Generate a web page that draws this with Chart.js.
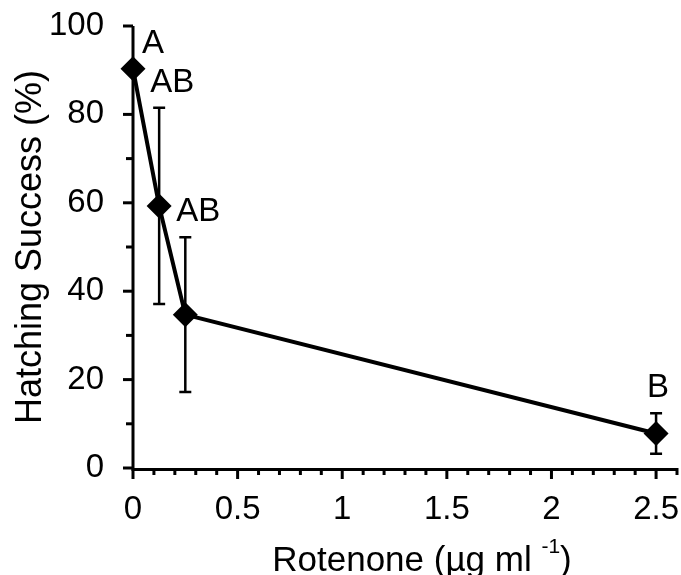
<!DOCTYPE html>
<html>
<head>
<meta charset="utf-8">
<script src="https://cdn.jsdelivr.net/npm/chart.js@4.4.1/dist/chart.umd.min.js"></script>
<style>
  html, body { margin: 0; padding: 0; background: #fff; }
</style>
</head>
<body>
<canvas id="chart" width="681" height="575"></canvas>
<script>
// data
const doses = [0, 0.125, 0.25, 2.5];
const hatching = [90.3, 59.3, 34.7, 7.8];
const errors = [0, 22.2, 17.5, 4.6];
const letters = ["A", "AB", "AB", "B"];
const xLabels = [0, 0.5, 1, 1.5, 2, 2.5];
const yLabels = [0, 20, 40, 60, 80, 100];

const FONT = '"Liberation Sans", Arial, sans-serif';

function near(list, v) {
  return list.find((l) => Math.abs(l - v) < 1e-6);
}

// axis lines + major/minor tick marks, error bars, letters, x title
const extras = {
  id: "extras",
  beforeDatasetsDraw(chart) {
    const { ctx, chartArea: a, scales } = chart;
    const xs = scales.x;
    const ys = scales.y;
    ctx.save();
    ctx.strokeStyle = "#000";
    ctx.lineWidth = 3;
    ctx.lineCap = "butt";
    ctx.beginPath();
    ctx.moveTo(a.left, a.top);
    ctx.lineTo(a.left, a.bottom + 1.5);
    ctx.lineTo(a.right, a.bottom + 1.5);
    ctx.stroke();

    xs.ticks.forEach((t) => {
      const px = xs.getPixelForValue(t.value);
      const len = near(xLabels, t.value) !== undefined ? 11 : 7;
      ctx.beginPath();
      ctx.moveTo(px, a.bottom);
      ctx.lineTo(px, a.bottom + len);
      ctx.stroke();
    });
    ys.ticks.forEach((t) => {
      const py = ys.getPixelForValue(t.value);
      const len = near(yLabels, t.value) !== undefined ? 10 : 7;
      ctx.beginPath();
      ctx.moveTo(a.left, py);
      ctx.lineTo(a.left - len, py);
      ctx.stroke();
    });

    // error bars
    ctx.lineWidth = 2.5;
    doses.forEach((d, i) => {
      if (!errors[i]) return;
      const px = xs.getPixelForValue(d);
      const top = ys.getPixelForValue(hatching[i] + errors[i]);
      const bot = ys.getPixelForValue(hatching[i] - errors[i]);
      ctx.beginPath();
      ctx.moveTo(px, top);
      ctx.lineTo(px, bot);
      ctx.moveTo(px - 6, top);
      ctx.lineTo(px + 6, top);
      ctx.moveTo(px - 6, bot);
      ctx.lineTo(px + 6, bot);
      ctx.stroke();
    });
    ctx.restore();
  },
  afterDraw(chart) {
    const { ctx, chartArea: a, scales } = chart;
    const xs = scales.x;
    const ys = scales.y;
    ctx.save();
    ctx.fillStyle = "#000";

    // significance letters above each error bar
    ctx.font = "33px " + FONT;
    ctx.textAlign = "left";
    ctx.textBaseline = "alphabetic";
    letters.forEach((l, i) => {
      const px = Math.max(xs.getPixelForValue(doses[i]) - 9, a.left + 9);
      const py = ys.getPixelForValue(hatching[i] + errors[i]) - 16;
      ctx.fillText(l, px, py);
    });

    // x axis title with superscript
    const main = "Rotenone (\u00b5g ml ";
    const sup = "-1";
    const end = ")";
    const big = "35px " + FONT;
    const small = "21px " + FONT;
    ctx.font = big;
    const w1 = ctx.measureText(main).width;
    const w3 = ctx.measureText(end).width;
    ctx.font = small;
    const w2 = ctx.measureText(sup).width;
    let x = 422 - (w1 + w2 + w3) / 2;
    const base = 571;
    ctx.font = big;
    ctx.fillText(main, x, base);
    x += w1;
    ctx.font = small;
    ctx.fillText(sup, x, base - 18);
    x += w2;
    ctx.font = big;
    ctx.fillText(end, x, base);
    ctx.restore();
  },
};

const chart = new Chart(document.getElementById("chart"), {
  type: "scatter",
  data: {
    datasets: [
      {
        data: doses.map((d, i) => ({ x: d, y: hatching[i] })),
        showLine: true,
        borderColor: "#000",
        borderWidth: 4,
        backgroundColor: "#000",
        pointStyle: "rectRot",
        pointRadius: 12.5,
        pointHoverRadius: 12.5,
        pointBackgroundColor: "#000",
        pointBorderWidth: 0,
        tension: 0,
        clip: false,
      },
    ],
  },
  options: {
    responsive: false,
    animation: false,
    layout: { autoPadding: false, padding: { top: 26, right: 4, left: 0, bottom: 0 } },
    plugins: { legend: { display: false }, tooltip: { enabled: false } },
    scales: {
      x: {
        type: "linear",
        min: 0,
        max: 2.6,
        grid: { display: false, drawTicks: false },
        border: { display: false },
        ticks: {
          stepSize: 0.1,
          autoSkip: false,
          maxRotation: 0,
          padding: 22,
          color: "#000",
          font: { family: FONT, size: 33 },
          callback: (v) => {
            const m = near(xLabels, v);
            return m === undefined ? "" : String(m);
          },
        },
        afterFit: (s) => {
          s.height = 107;
          s.paddingLeft = 0;
          s.paddingRight = 0;
        },
      },
      y: {
        type: "linear",
        min: 0,
        max: 100,
        grid: { display: false, drawTicks: false },
        border: { display: false },
        ticks: {
          stepSize: 10,
          autoSkip: false,
          padding: 29,
          color: "#000",
          font: { family: FONT, size: 33 },
          callback: (v) => {
            const m = near(yLabels, v);
            return m === undefined ? "" : String(m);
          },
        },
        title: {
          display: true,
          text: "Hatching Success (%)",
          color: "#000",
          font: { family: FONT, size: 36 },
          padding: { top: 9, bottom: 0 },
        },
        afterFit: (s) => {
          s.width = 133;
          s.paddingTop = 0;
          s.paddingBottom = 0;
        },
      },
    },
  },
  plugins: [extras],
});
</script>
</body>
</html>
